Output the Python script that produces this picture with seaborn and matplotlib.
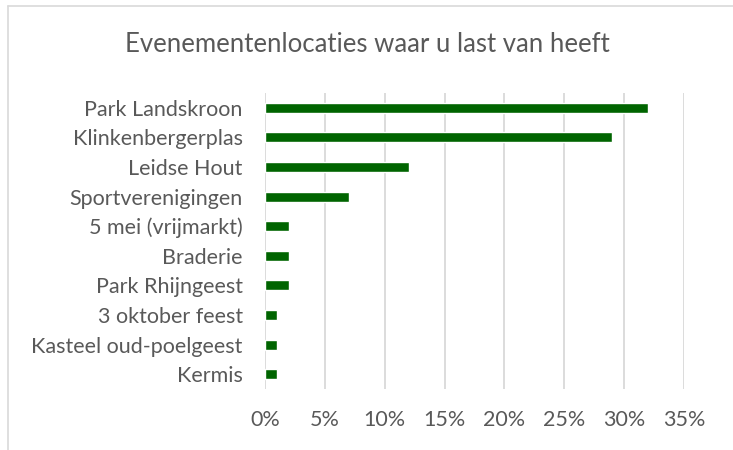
import matplotlib
matplotlib.use('Agg')
import matplotlib.pyplot as plt
import seaborn as sns
import pandas as pd
from matplotlib.ticker import PercentFormatter, MultipleLocator

# Data
locaties = ['Park Landskroon', 'Klinkenbergerplas', 'Leidse Hout', 'Sportverenigingen',
            '5 mei (vrijmarkt)', 'Braderie', 'Park Rhijngeest', '3 oktober feest',
            'Kasteel oud-poelgeest', 'Kermis']
percentages = [32, 29, 12, 7, 2, 2, 2, 1, 1, 1]

df = pd.DataFrame({'locatie': locaties, 'pct': percentages})

sns.set_theme(style='white')
plt.rcParams['font.family'] = ['Lato', 'DejaVu Sans']

fig = plt.figure(figsize=(7.33, 4.5), dpi=100)
ax = fig.add_axes([265 / 733, 1 - 389 / 450, (684 - 265) / 733, (389 - 93) / 450])

sns.barplot(data=df, x='pct', y='locatie', orient='h', color='#006400',
            width=0.34, saturation=1, ax=ax, zorder=3)

ax.set_xlim(0, 35)
ax.xaxis.set_major_locator(MultipleLocator(5))
ax.xaxis.set_major_formatter(PercentFormatter(decimals=0))
ax.grid(axis='x', color='#d9d9d9', linewidth=1.3, zorder=0)
ax.set_axisbelow(True)
for s in ax.spines.values():
    s.set_visible(False)
ax.set_xlabel('')
ax.set_ylabel('')
ax.tick_params(axis='y', length=0, pad=16, labelsize=15.5, labelcolor='#595959')
ax.tick_params(axis='x', length=0, pad=15, labelsize=15.5, labelcolor='#595959')

fig.text(367 / 733, 1 - 45 / 450, 'Evenementenlocaties waar u last van heeft',
         ha='center', va='center', fontsize=18.5, color='#595959')

# chart frame
fig.add_artist(plt.Line2D([8 / 733, 8 / 733], [0, 1 - 6 / 450], transform=fig.transFigure,
                          color='#d9d9d9', linewidth=1.2))
fig.add_artist(plt.Line2D([8 / 733, 1], [1 - 6 / 450, 1 - 6 / 450], transform=fig.transFigure,
                          color='#d9d9d9', linewidth=1.2))

fig.savefig('out.png', dpi=100)
